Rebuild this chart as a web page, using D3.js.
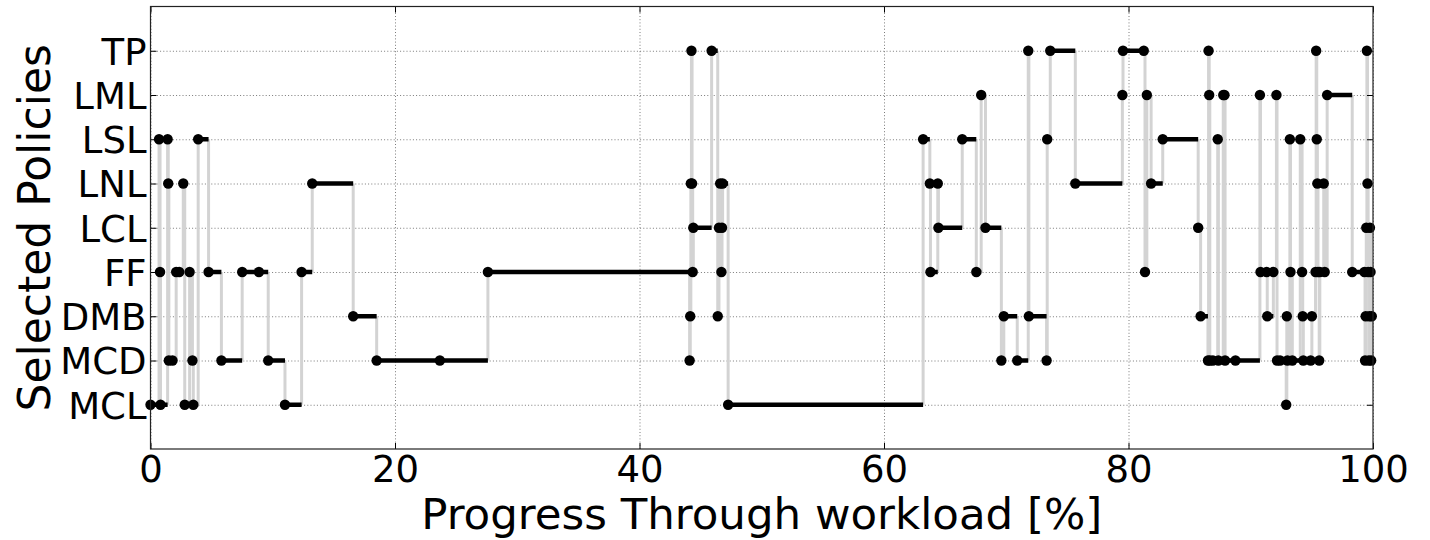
<!DOCTYPE html>
<html lang="en">
<head>
    <meta charset="UTF-8">
    <title>Selected Policies</title>
    <style>
        body {
            margin: 0;
            background: white;
            font-family: 'DejaVu Sans', sans-serif;
        }
        svg text {
            font-family: 'DejaVu Sans', sans-serif;
            fill: black;
        }
    </style>
</head>
<body>
    <svg id="chart" width="1430" height="540"></svg>

    <script src="https://d3js.org/d3.v7.min.js"></script>
    <script>
        // policy names, bottom to top
        const categories = ['MCL', 'MCD', 'DMB', 'FF', 'LCL', 'LNL', 'LSL', 'LML', 'TP'];
        const xTicks = [0, 20, 40, 60, 80, 100];

        // each switch: time [% of workload] and the policy picked from then on
        const switchTimes = [
            0.0, 0.7, 0.78, 0.82, 1.4, 1.45, 1.5, 1.8, 2.1, 2.35, 2.68, 2.8, 3.2, 3.43, 3.5, 3.9, 4.75, 5.8,
            7.5, 8.87, 9.63, 11.0, 12.36, 13.23, 16.58, 18.5, 23.67, 27.6,
            44.1, 44.15, 44.2, 44.25, 44.3, 44.35, 44.4, 45.9, 46.4, 46.5, 46.6, 46.7, 46.75, 46.8, 47.25,
            63.2, 63.75, 63.8, 64.4, 64.45, 66.4, 67.55, 67.95, 68.3, 69.6, 69.8, 70.9, 71.8, 71.85,
            73.3, 73.35, 73.6, 75.65, 79.5, 79.55, 81.25, 81.35, 81.5, 81.85, 82.8, 85.7, 85.9,
            86.5, 86.55, 86.6, 86.65, 86.9, 87.3, 87.35, 87.75, 87.85, 87.9, 88.75,
            90.75, 90.8, 91.3, 91.35, 91.85, 92.1, 92.15, 92.4, 92.9, 92.95, 93.0, 93.2, 93.25, 93.4,
            94.05, 94.2, 94.25, 94.3, 94.9, 95.0, 95.3, 95.35, 95.4, 95.45, 95.5, 95.6, 95.65, 95.97, 96.05,
            96.25, 98.3, 99.3, 99.35, 99.4, 99.45, 99.5, 99.55, 99.6, 99.65, 99.7, 99.75, 99.8, 99.85, 99.9
        ];
        const switchPolicies = [
            'MCL', 'LSL', 'FF', 'MCL', 'LSL', 'LNL', 'MCD', 'MCD', 'FF', 'FF', 'LNL', 'MCL', 'FF', 'MCD', 'MCL', 'LSL', 'FF', 'MCD',
            'FF', 'FF', 'MCD', 'MCL', 'FF', 'LNL', 'DMB', 'MCD', 'MCD', 'FF',
            'MCD', 'DMB', 'LNL', 'TP', 'LNL', 'FF', 'LCL', 'TP', 'DMB', 'LCL', 'LNL', 'FF', 'LCL', 'LNL', 'MCL',
            'LSL', 'LNL', 'FF', 'LNL', 'LCL', 'LSL', 'FF', 'LML', 'LCL', 'MCD', 'DMB', 'MCD', 'TP', 'DMB',
            'MCD', 'LSL', 'TP', 'LNL', 'LML', 'TP', 'TP', 'FF', 'LML', 'LNL', 'LSL', 'LCL', 'DMB',
            'MCD', 'TP', 'LML', 'MCD', 'MCD', 'LSL', 'MCD', 'LML', 'LML', 'MCD', 'MCD',
            'LML', 'FF', 'FF', 'DMB', 'FF', 'LML', 'MCD', 'MCD', 'MCL', 'DMB', 'MCD', 'LSL', 'FF', 'MCD',
            'LSL', 'FF', 'DMB', 'MCD', 'MCD', 'DMB', 'FF', 'TP', 'LSL', 'LNL', 'FF', 'MCD', 'FF', 'LNL', 'FF',
            'LML', 'FF', 'FF', 'MCD', 'DMB', 'LCL', 'TP', 'LNL', 'FF', 'MCD', 'DMB', 'LCL', 'FF', 'MCD', 'DMB'
        ];
        const endTime = 100;

        const margin = { top: 6.5, right: 57, bottom: 91, left: 150.5 };
        const width = 1430 - margin.left - margin.right;
        const height = 540 - margin.top - margin.bottom;

        const svg = d3.select('#chart');
        const g = svg.append('g')
            .attr('transform', `translate(${margin.left},${margin.top})`);

        const x = d3.scaleLinear().domain([0, 100]).range([0, width]);
        const y = d3.scaleLinear().domain([-1, categories.length]).range([height, 0]);
        const yPos = name => y(categories.indexOf(name));

        // dotted grid
        g.append('g')
            .attr('class', 'grid')
            .attr('transform', `translate(0,${height})`)
            .call(d3.axisBottom(x).tickValues(xTicks).tickSize(-height).tickFormat(''));
        g.append('g')
            .attr('class', 'grid')
            .call(d3.axisLeft(y).tickValues(d3.range(categories.length)).tickSize(-width).tickFormat(''));
        g.selectAll('.grid .domain').remove();
        g.selectAll('.grid line')
            .attr('stroke', '#7a7a7a')
            .attr('stroke-width', 1)
            .attr('stroke-dasharray', '1,2.2');

        const steps = switchTimes.map((t, i) => ({
            t: t,
            p: switchPolicies[i],
            next: i + 1 < switchTimes.length ? switchTimes[i + 1] : endTime,
            nextP: i + 1 < switchTimes.length ? switchPolicies[i + 1] : null
        }));

        // grey connectors at every switch
        g.append('g').selectAll('line')
            .data(steps.filter(d => d.nextP !== null))
            .join('line')
            .attr('x1', d => x(d.next))
            .attr('x2', d => x(d.next))
            .attr('y1', d => yPos(d.p))
            .attr('y2', d => yPos(d.nextP))
            .attr('stroke', '#d3d3d3')
            .attr('stroke-width', 3);

        // time spent in each policy
        g.append('g').selectAll('line')
            .data(steps)
            .join('line')
            .attr('x1', d => x(d.t))
            .attr('x2', d => x(d.next))
            .attr('y1', d => yPos(d.p))
            .attr('y2', d => yPos(d.p))
            .attr('stroke', 'black')
            .attr('stroke-width', 4.5);

        g.append('g').selectAll('circle')
            .data(steps)
            .join('circle')
            .attr('cx', d => x(d.t))
            .attr('cy', d => yPos(d.p))
            .attr('r', 5.2)
            .attr('fill', 'black');

        // axes, ticks pointing inwards
        const xAxis = g.append('g')
            .attr('transform', `translate(0,${height})`)
            .call(d3.axisBottom(x).tickValues(xTicks).tickSizeInner(-6).tickSizeOuter(0).tickPadding(7));
        const yAxis = g.append('g')
            .call(d3.axisLeft(y).tickValues(d3.range(categories.length))
                .tickFormat(i => categories[i]).tickSizeInner(-6).tickSizeOuter(0).tickPadding(4));
        g.append('g')
            .call(d3.axisTop(x).tickValues(xTicks).tickSizeInner(-6).tickSizeOuter(0).tickFormat(''));
        g.append('g')
            .attr('transform', `translate(${width},0)`)
            .call(d3.axisRight(y).tickValues(d3.range(categories.length)).tickSizeInner(-6).tickSizeOuter(0).tickFormat(''));
        g.selectAll('.domain').remove();
        g.selectAll('.tick line').filter(function () { return !this.closest('.grid'); })
            .attr('stroke', 'black');

        xAxis.selectAll('text')
            .attr('font-size', 37)
            .attr('dy', '0.71em');
        yAxis.selectAll('text')
            .attr('font-size', 37)
            .attr('dy', '0.36em');

        // frame
        g.append('rect')
            .attr('width', width)
            .attr('height', height)
            .attr('fill', 'none')
            .attr('stroke', '#222')
            .attr('stroke-width', 1.2);

        svg.append('text')
            .attr('x', margin.left + width / 2)
            .attr('y', 529)
            .attr('text-anchor', 'middle')
            .attr('font-size', 43.5)
            .text('Progress Through workload [%]');

        svg.append('text')
            .attr('transform', `translate(50,${margin.top + height / 2}) rotate(-90)`)
            .attr('text-anchor', 'middle')
            .attr('font-size', 44)
            .text('Selected Policies');
    </script>
</body>
</html>
